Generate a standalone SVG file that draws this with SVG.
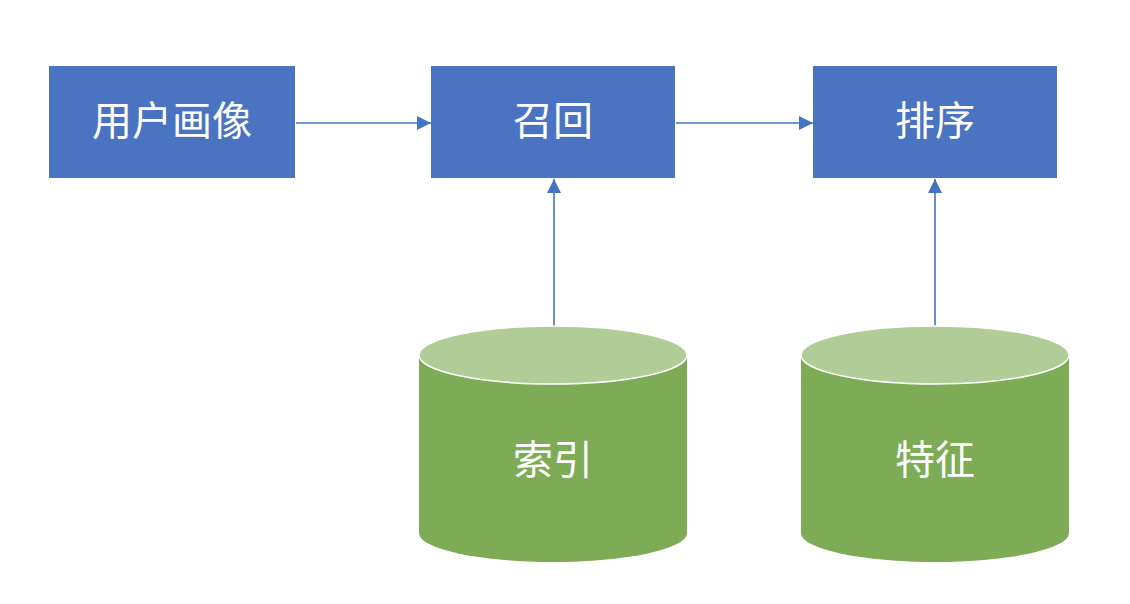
<svg xmlns="http://www.w3.org/2000/svg" width="1130" height="604" viewBox="0 0 1130 604">
<defs>
<style>
.box{fill:#4A73C1;}
.lbl{fill:#ffffff;font-family:"Noto Sans CJK SC","Noto Sans",sans-serif;font-size:40px;text-anchor:middle;dominant-baseline:central;}
.body{fill:#7EAB55;}
.top{fill:#B0CD98;stroke:#ffffff;stroke-width:1.5;}
.conn{stroke:#4472C4;stroke-width:1.6;fill:none;marker-end:url(#arr);}
</style>
<marker id="arr" viewBox="0 0 10 10" refX="10" refY="5" markerUnits="userSpaceOnUse" markerWidth="14" markerHeight="14" orient="auto">
<path d="M0,0 L10,5 L0,10 Z" fill="#4472C4"/>
</marker>
</defs>
<rect width="1130" height="604" fill="#ffffff"/>
<g id="connectors">
<line class="conn" x1="296" y1="123" x2="431" y2="123"/>
<line class="conn" x1="676" y1="123" x2="813" y2="123"/>
<line class="conn" x1="554" y1="326" x2="554" y2="179"/>
<line class="conn" x1="935" y1="326" x2="935" y2="179"/>
</g>
<g id="node-profile">
<rect class="box" x="49" y="66" width="246" height="112"/>
<text class="lbl" x="172" y="118">用户画像</text>
</g>
<g id="node-recall">
<rect class="box" x="431" y="66" width="244" height="112"/>
<text class="lbl" x="553" y="118">召回</text>
</g>
<g id="node-rank">
<rect class="box" x="813" y="66" width="244" height="112"/>
<text class="lbl" x="935" y="118">排序</text>
</g>
<g id="node-index">
<path class="body" d="M419,355 L419,533 A134,29 0 0 0 687,533 L687,355 Z"/>
<ellipse class="top" cx="553" cy="355" rx="134" ry="29"/>
<text class="lbl" x="553" y="457">索引</text>
</g>
<g id="node-feature">
<path class="body" d="M801,355 L801,533 A134,29 0 0 0 1069,533 L1069,355 Z"/>
<ellipse class="top" cx="935" cy="355" rx="134" ry="29"/>
<text class="lbl" x="935" y="457">特征</text>
</g>
</svg>
